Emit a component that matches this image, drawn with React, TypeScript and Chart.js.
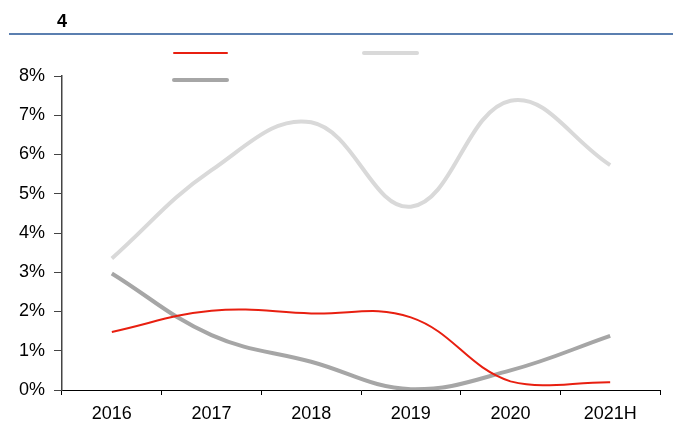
import React, { useEffect, useRef } from "react";
import { Chart, registerables } from "chart.js";

Chart.register(...registerables);

const categories = ["2016", "2017", "2018", "2019", "2020", "2021H"];
const redSeries = [1.48, 2.02, 1.95, 1.85, 0.22, 0.2];
const lightGraySeries = [3.35, 5.6, 6.82, 4.67, 7.37, 5.73];
const darkGraySeries = [2.97, 1.4, 0.72, 0.02, 0.5, 1.38];
const yTicks = [0, 1, 2, 3, 4, 5, 6, 7, 8];
const titleText = "4";

const FONT = "'Liberation Sans', Arial, sans-serif";

const decorPlugin = {
  id: "decor",
  afterDraw(chart: any) {
    const ctx = chart.ctx;
    ctx.save();
    // title
    ctx.fillStyle = "#000";
    ctx.font = `bold 18px 'Liberation Sans Narrow', 'Liberation Sans', sans-serif`;
    ctx.textAlign = "center";
    ctx.textBaseline = "middle";
    ctx.fillText(titleText, 62, 22);
    // header rule
    ctx.strokeStyle = "#5b7fb0";
    ctx.lineWidth = 2;
    ctx.beginPath();
    ctx.moveTo(9, 34);
    ctx.lineTo(673, 34);
    ctx.stroke();
    // legend
    const slots = [
      { x: 174, y: 53 },
      { x: 364, y: 53 },
      { x: 174, y: 80 },
    ];
    chart.data.datasets.forEach((ds: any, i: number) => {
      const s = slots[i];
      ctx.strokeStyle = ds.borderColor;
      ctx.lineWidth = ds.borderWidth;
      ctx.lineCap = "round";
      ctx.beginPath();
      ctx.moveTo(s.x, s.y);
      ctx.lineTo(s.x + 53, s.y);
      ctx.stroke();
    });
    ctx.restore();
  },
};

export default function App() {
  const ref = useRef<HTMLCanvasElement | null>(null);
  useEffect(() => {
    if (!ref.current) return;
    const chart = new Chart(ref.current, {
      type: "line",
      data: {
        labels: categories,
        datasets: [
          {
            label: "",
            data: redSeries,
            borderColor: "#e81f10",
            borderWidth: 2,
            pointRadius: 0,
            tension: 0.4,
            fill: false,
          },
          {
            label: "",
            data: lightGraySeries,
            borderColor: "#d9d9d9",
            borderWidth: 4,
            pointRadius: 0,
            tension: 0.4,
            fill: false,
          },
          {
            label: "",
            data: darkGraySeries,
            borderColor: "#a6a6a6",
            borderWidth: 4,
            pointRadius: 0,
            tension: 0.4,
            fill: false,
          },
        ],
      },
      options: {
        animation: false,
        responsive: false,
        maintainAspectRatio: false,
        layout: { padding: { left: 10, right: 26, top: 76, bottom: 18 } },
        plugins: {
          legend: { display: false },
          tooltip: { enabled: false },
          title: { display: false },
        },
        scales: {
          x: {
            offset: true,
            grid: {
              display: true,
              offset: true,
              drawOnChartArea: false,
              drawTicks: true,
              tickLength: 5,
              color: "#000",
            },
            border: { display: true, color: "#000", width: 1 },
            ticks: {
              color: "#000",
              font: { family: FONT, size: 18 },
              padding: 8,
              maxRotation: 0,
            },
            afterFit: (s: any) => {
              s.height = 40;
            },
          },
          y: {
            min: 0,
            max: 8,
            afterBuildTicks: (s: any) => {
              s.ticks = yTicks.map((v) => ({ value: v }));
            },
            grid: {
              display: true,
              drawOnChartArea: false,
              drawTicks: true,
              tickLength: 8,
              color: "#444",
            },
            border: { display: true, color: "#444", width: 1.5 },
            ticks: {
              color: "#000",
              font: { family: FONT, size: 18 },
              padding: 9,
              callback: (v: any) => `${v}%`,
            },
            afterFit: (s: any) => {
              s.width = 52;
            },
          },
        },
      },
      plugins: [decorPlugin],
    });
    return () => chart.destroy();
  }, []);
  return (
    <div style={{ position: "fixed", left: 0, top: 0, width: 686, height: 448, background: "#fff" }}>
      <canvas ref={ref} width={686} height={448} style={{ width: 686, height: 448 }} />
    </div>
  );
}
